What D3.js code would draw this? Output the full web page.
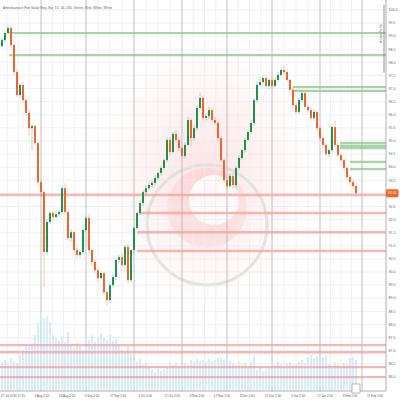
<!DOCTYPE html>
<html><head><meta charset="utf-8">
<script src="https://cdn.jsdelivr.net/npm/d3@7"></script>
<style>html,body{margin:0;padding:0;background:#fff;}svg{display:block;font-family:"Liberation Sans",sans-serif;}</style>
</head><body><svg id="c" width="400" height="400"></svg>
<script>
const title = "Amerikanisch Fair Value Exp, Exj, 15, 10, 230, Green, Red, White, White";
const firstOpen = 98.62;
const closes = [
98.85, 99.12, 99.31, 98.66, 97.63, 96.75, 97.14, 96.56, 96.07, 95.49,
95.57, 94.92, 93.43, 93.05, 90.76, 91.91, 92.25, 92.10, 92.21, 92.29,
93.20, 92.29, 91.30, 91.52, 90.84, 90.65, 90.76, 91.60, 92.06, 90.84,
90.38, 90.07, 89.77, 89.96, 89.23, 88.93, 89.50, 89.81, 90.46, 90.57,
90.27, 90.95, 89.69, 90.84, 91.68, 92.25, 92.63, 93.05, 93.20, 93.32,
93.40, 93.59, 93.78, 93.97, 94.27, 95.04, 94.58, 95.27, 95.04, 94.73,
94.43, 94.85, 95.80, 95.11, 95.49, 96.26, 96.64, 95.88, 95.95, 96.18,
95.80, 95.69, 95.11, 94.27, 93.51, 93.28, 93.66, 93.32, 93.97, 94.35,
94.65, 95.04, 95.34, 95.69, 96.56, 97.14, 97.25, 97.40, 97.10, 97.33,
97.10, 97.33, 97.52, 97.71, 97.63, 97.33, 96.95, 96.37, 96.11, 96.56,
96.83, 96.30, 96.18, 95.88, 96.11, 95.49, 95.11, 94.85, 94.50, 94.65,
95.53, 94.85, 94.46, 94.27, 93.97, 93.62, 93.43, 93.28, 93.01];
const wickUp = [
0.10,0.08,0.12,0.06,0.05,0.10,0.08,0.12,0.05,0.10,
0.08,0.06,0.05,0.10,0.08,0.12,0.10,0.08,0.15,0.06,
0.10,0.20,0.08,0.12,0.05,0.10,0.06,0.08,0.10,0.15,
0.05,0.08,0.10,0.06,0.05,0.08,0.10,0.12,0.06,0.08,
0.10,0.08,0.12,0.05,0.08,0.06,0.10,0.08,0.12,0.06,
0.08,0.10,0.06,0.08,0.05,0.12,0.10,0.08,0.15,0.06,
0.08,0.10,0.12,0.06,0.10,0.08,0.20,0.10,0.08,0.12,
0.06,0.10,0.08,0.05,0.06,0.08,0.10,0.12,0.08,0.10,
0.06,0.08,0.10,0.12,0.08,0.10,0.12,0.08,0.10,0.06,
0.10,0.08,0.12,0.10,0.15,0.08,0.06,0.10,0.08,0.12,
0.10,0.06,0.08,0.10,0.12,0.06,0.08,0.05,0.10,0.08,
0.10,0.27,0.08,0.06,0.10,0.05,0.08,0.10,0.06];
const wickDn = [
0.06,0.08,0.05,0.10,0.12,0.08,0.10,0.06,0.12,0.30,
0.85,0.10,0.15,0.20,1.34,0.12,0.10,0.15,0.08,0.10,
0.08,0.10,0.12,0.15,0.08,0.12,0.10,0.08,0.06,0.10,
0.12,0.10,0.15,0.08,0.12,0.20,0.10,0.08,0.12,0.10,
0.08,0.10,0.12,0.08,0.10,0.06,0.08,0.10,0.12,0.08,
0.10,0.06,0.08,0.10,0.05,0.08,0.12,0.06,0.10,0.12,
0.08,0.10,0.06,0.30,0.08,0.10,0.06,0.08,0.10,0.12,
0.08,0.10,0.12,0.06,0.10,0.15,0.08,0.12,0.10,0.08,
0.06,0.10,0.08,0.06,0.10,0.08,0.05,0.10,0.08,0.12,
0.10,0.06,0.08,0.05,0.10,0.08,0.12,0.06,0.10,0.08,
0.08,0.10,0.06,0.08,0.10,0.12,0.08,0.10,0.06,0.12,
0.08,0.10,0.06,0.08,0.12,0.10,0.15,0.08,0.10];
const volumes = [
28,30,26,32,29,27,35, 40,45,43,47, 55,68, 77,72,74,68, 55,52,50,54,48, 58,
45,42,47,44,40, 52,50,55,48,53,57,52,50,55,49,51, 45,40,38,44,36,
30,28,32,25,27,24, 20,18,22,19,21,23, 27,25,28,24,26,27,25, 30,28,31,29,
30,28,31,29,30,32, 32,30,33,29, 27,25,28,26,27,24,28, 35, 20,22,19,21,23,
27,25,28,26,24,27,28,25,26, 28,30,27, 33,35,32,34,30,33,35,
26,24,28,25,23,27,26, 32,33,30];
const yTicks = [86.0,86.5,87.0,87.5,88.0,88.5,89.0,89.5,90.0,90.5,91.0,91.5,92.0,92.5,93.0,93.5,94.0,94.5,95.0,95.5,96.0,96.5,97.0,97.5,98.0,98.5,99.0,99.5,100.0];
const xLabels = ["27 Jul 2019 17:15","3 Aug 2:00","18 Aug 2:00","3 Sep 2:00","17 Sep 2:00","3 Oct 2:00","17 Oct 2:00","3 Nov 2:00","17 Nov 2:00","3 Dec 2:00","17 Dec 2:00","3 Jan 2:00","17 Jan 2:00","3 Feb 2:00","17 Feb 2:00"];
const xLabelIdx = [-0.5,13.3,21.7,30,38.7,47.7,56.7,65,73.3,81.7,90.3,98.7,107.7,116,124.3];
const majorIdx = [13,28,44,60,75,90,106,120];
const greenLevels = [99.12, 98.28, 97.06, 96.91, 94.92, 94.81, 94.73, 94.20, 93.93];
const greenStart = [2.4, 2.4, 97, 97, 112.7, 112.7, 112.7, 116, 116];
const redLevels = [92.94, 92.25, 91.52, 90.80, 87.21, 86.94, 86.37, 85.99];
const redStart = [-1, 46, 45, 45, -1, -1, -1, -1];

const svg = d3.select("#c");
const W = 386, H = 391;
const x = d3.scaleLinear().domain([0, 128]).range([2, W]);
const y = d3.scaleLinear().domain([85.46, 100.38]).range([H, 0]);
const yv = d3.scaleLinear().domain([0, 100]).range([390, 290]);

const n = closes.length;
const data = closes.map((c, i) => {
  const o = i === 0 ? firstOpen : closes[i-1];
  return {i, o, c, h: Math.max(o,c) + wickUp[i], l: Math.min(o,c) - wickDn[i], v: volumes[i]};
});

// background watermark
const defs = svg.append("defs");
const rg = defs.append("radialGradient").attr("id","glow");
rg.append("stop").attr("offset","0%").attr("stop-color","#ff3030").attr("stop-opacity",0.14);
rg.append("stop").attr("offset","60%").attr("stop-color","#ff5050").attr("stop-opacity",0.06);
rg.append("stop").attr("offset","100%").attr("stop-color","#ff6060").attr("stop-opacity",0);
svg.append("ellipse").attr("cx",205).attr("cy",175).attr("rx",110).attr("ry",135).attr("fill","url(#glow)");
svg.append("circle").attr("cx",207).attr("cy",225).attr("r",60).attr("fill","none").attr("stroke","#d9d9d9").attr("stroke-width",3).attr("opacity",0.75);
svg.append("circle").attr("cx",207).attr("cy",208).attr("r",40).attr("fill","#f9c2c2").attr("opacity",0.35);
svg.append("circle").attr("cx",214).attr("cy",200).attr("r",25).attr("fill","#fff").attr("opacity",0.85);

// grid
const g = svg.append("g");
g.selectAll(".hg").data(yTicks).join("line")
  .attr("x1",0).attr("x2",W).attr("y1",d=>y(d)).attr("y2",d=>y(d))
  .attr("stroke","#ececec").attr("stroke-width",0.8);
const minor = [];
for (let k = 0; k < majorIdx.length; k++) {
  const a = k === 0 ? majorIdx[0] - 15 : majorIdx[k-1];
  const b = majorIdx[k];
  for (let q = 1; q < 4; q++) minor.push(a + (b - a) * q / 4);
}
g.selectAll(".vg").data(minor.filter(d => x(d) > 0 && x(d) < W)).join("line")
  .attr("y1",0).attr("y2",H).attr("x1",d=>x(d)).attr("x2",d=>x(d))
  .attr("stroke","#ededed").attr("stroke-width",0.8);
g.selectAll(".mg").data(majorIdx.filter(d => x(d) < W)).join("line")
  .attr("y1",0).attr("y2",H).attr("x1",d=>x(d)).attr("x2",d=>x(d))
  .attr("stroke","#b0b0b0").attr("stroke-width",0.8);

// volume
svg.append("g").selectAll("rect").data(data).join("rect")
  .attr("x", d => x(d.i) - 0.8).attr("width", 1.6)
  .attr("y", d => yv(d.v)).attr("height", d => yv(0) - yv(d.v))
  .attr("fill", "#cfe9f6");

// levels
const lv = svg.append("g");
lv.selectAll(".gl").data(greenLevels).join("line")
  .attr("x1",(d,i)=>Math.max(0,x(greenStart[i]))).attr("x2",W)
  .attr("y1",d=>y(d)).attr("y2",d=>y(d))
  .attr("stroke","#8cc68a").attr("stroke-width",2.2).attr("opacity",0.75);
lv.selectAll(".rl").data(redLevels).join("line")
  .attr("x1",(d,i)=>Math.max(0,x(redStart[i]))).attr("x2",W)
  .attr("y1",d=>y(d)).attr("y2",d=>y(d))
  .attr("stroke","#f59a9a").attr("stroke-width",2.4).attr("opacity",0.7);

// candles
const up = "#1f9150", dn = "#f0652f";
const cg = svg.append("g");
cg.selectAll("line").data(data).join("line")
  .attr("x1",d=>x(d.i)).attr("x2",d=>x(d.i))
  .attr("y1",d=>y(d.h)).attr("y2",d=>y(d.l))
  .attr("stroke",d=>d.c>=d.o?up:dn).attr("stroke-width",0.6).attr("opacity",0.55);
cg.selectAll("rect").data(data).join("rect")
  .attr("x",d=>x(d.i)-1).attr("width",2)
  .attr("y",d=>y(Math.max(d.o,d.c)))
  .attr("height",d=>Math.max(0.8, Math.abs(y(d.o)-y(d.c))))
  .attr("fill",d=>d.c>=d.o?up:dn);

// right axis
svg.append("line").attr("x1",W).attr("x2",W).attr("y1",0).attr("y2",H).attr("stroke","#999").attr("stroke-width",0.8);
const last = closes[n-1];
svg.append("g").selectAll("text").data(yTicks.filter(d => Math.abs(y(d) - y(last)) > 6)).join("text")
  .attr("x",W+2.5).attr("y",d=>y(d)).attr("dy","0.35em")
  .attr("font-size",3.6).attr("fill","#666").text(d=>d.toFixed(1));
svg.append("rect").attr("x",W).attr("y",y(last)-4).attr("width",12.5).attr("height",8).attr("rx",1.5).attr("fill","#f26522");
svg.append("text").attr("x",W+6.3).attr("y",y(last)).attr("dy","0.35em").attr("text-anchor","middle")
  .attr("font-size",3.6).attr("fill","#fff").text(last.toFixed(2));

// bracket indicator
svg.append("line").attr("x1",W-2).attr("x2",W-2).attr("y1",y(100.2)).attr("y2",y(97.6)).attr("stroke","#666").attr("stroke-width",0.7);
svg.append("text").attr("transform",`translate(${W-4},${y(99.1)}) rotate(-90)`).attr("text-anchor","middle")
  .attr("font-size",3).attr("fill","#777").text("Volume Profile");

// bottom axis
svg.append("line").attr("x1",0).attr("x2",W).attr("y1",H).attr("y2",H).attr("stroke","#999").attr("stroke-width",0.8);
svg.append("g").selectAll("text").data(xLabels).join("text")
  .attr("x",(d,i)=>i===0?1:x(xLabelIdx[i])).attr("y",H+5.5)
  .attr("text-anchor",(d,i)=>i===0?"start":"middle")
  .attr("font-size",3).attr("fill","#555").text(d=>d);
svg.append("rect").attr("x",x(n-1)-4).attr("y",384).attr("width",8).attr("height",9).attr("fill","#fff").attr("stroke","#888").attr("stroke-width",0.6);

// title
svg.append("text").attr("x",3).attr("y",9).attr("font-size",3.4).attr("fill","#666").text(title);
</script></body></html>
